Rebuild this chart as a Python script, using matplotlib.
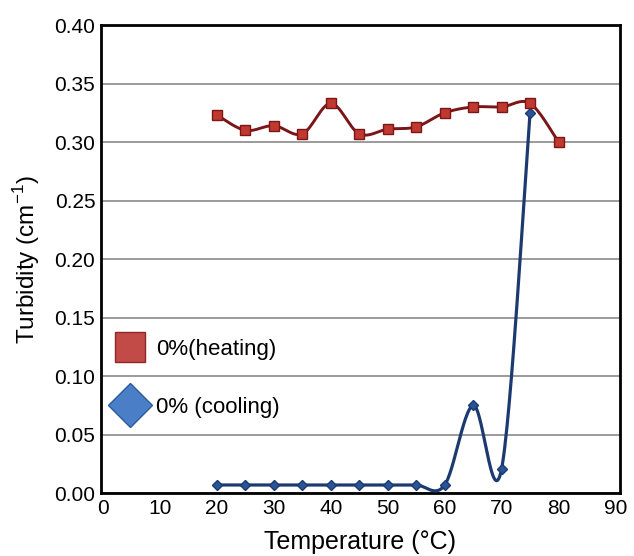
import numpy as np
import matplotlib
matplotlib.use("Agg")
import matplotlib.pyplot as plt
from matplotlib.lines import Line2D

plt.rcParams['font.family'] = ['Liberation Sans', 'DejaVu Sans']

temps_heat = [20, 25, 30, 35, 40, 45, 50, 55, 60, 65, 70, 75, 80]
heating = [0.323, 0.310, 0.314, 0.307, 0.333, 0.307, 0.311, 0.313, 0.325, 0.330, 0.330, 0.333, 0.300]
temps_cool = [20, 25, 30, 35, 40, 45, 50, 55, 60, 65, 70, 75]
cooling = [0.007, 0.007, 0.007, 0.007, 0.007, 0.007, 0.007, 0.007, 0.007, 0.075, 0.021, 0.325]
xticks = [0, 10, 20, 30, 40, 50, 60, 70, 80, 90]
yticks = [0.00, 0.05, 0.10, 0.15, 0.20, 0.25, 0.30, 0.35, 0.40]


def smooth(x, y, n=30):
    x = np.asarray(x, float)
    y = np.asarray(y, float)
    px = np.concatenate([[x[0]], x, [x[-1]]])
    py = np.concatenate([[y[0]], y, [y[-1]]])
    xs, ys = [], []
    t = np.linspace(0, 1, n)
    for i in range(1, len(px) - 2):
        p0 = np.array([px[i], py[i]])
        p3 = np.array([px[i + 1], py[i + 1]])
        p1 = p0 + (np.array([px[i + 1], py[i + 1]]) - np.array([px[i - 1], py[i - 1]])) / 6
        p2 = p3 - (np.array([px[i + 2], py[i + 2]]) - np.array([px[i], py[i]])) / 6
        b = ((1 - t) ** 3)[:, None] * p0 + (3 * (1 - t) ** 2 * t)[:, None] * p1 + \
            (3 * (1 - t) * t ** 2)[:, None] * p2 + (t ** 3)[:, None] * p3
        xs.extend(b[:, 0])
        ys.extend(b[:, 1])
    return np.array(xs), np.array(ys)


fig = plt.figure(figsize=(6.34, 5.56), dpi=100)
ax = fig.add_axes([0.159, 0.113, 0.819, 0.842])

heat_line = '#7a1518'
cool_line = '#1c3a70'

sx, sy = smooth(temps_cool, cooling)
ax.plot(sx, sy, color=cool_line, lw=2.3, zorder=3)
ax.plot(temps_cool, cooling, ls='none', marker='D', ms=5, color='#2a5496',
        mec='#1c3a70', zorder=4)

sx, sy = smooth(temps_heat, heating)
ax.plot(sx, sy, color=heat_line, lw=2.1, zorder=3)
ax.plot(temps_heat, heating, ls='none', marker='s', ms=7, color='#c0392f',
        mec='#7a1518', mew=1, zorder=4)

ax.set_xlim(-0.4, 90.8)
ax.set_ylim(0, 0.40)
ax.set_xticks(xticks)
ax.set_yticks(yticks)
ax.set_xticklabels([str(v) for v in xticks])
ax.set_yticklabels([f"{v:.2f}" for v in yticks])
ax.tick_params(length=0, labelsize=15, pad=4)
ax.yaxis.grid(True, color='#8a8a8a', lw=1.2)
ax.set_axisbelow(True)
for s in ax.spines.values():
    s.set_linewidth(2)
    s.set_color('black')

ax.set_xlabel('Temperature (°C)', fontsize=18, labelpad=9)
ax.set_ylabel('Turbidity (cm$^{\\mathregular{-1}}$)', fontsize=17.5, labelpad=9)

handles = [
    Line2D([], [], ls='none', marker='s', ms=22, color='#c24b48', mec='#8c2826', mew=1),
    Line2D([], [], ls='none', marker='D', ms=22, color='#4a7fc8', mec='#2b5a9a', mew=1),
]
ax.legend(handles, ['0%(heating)', '0% (cooling)'], loc='center left',
          bbox_to_anchor=(-0.012, 0.245), frameon=False, fontsize=16,
          labelspacing=1.65, handletextpad=0.45, handlelength=1.4)

fig.savefig('out.png', dpi=100)
